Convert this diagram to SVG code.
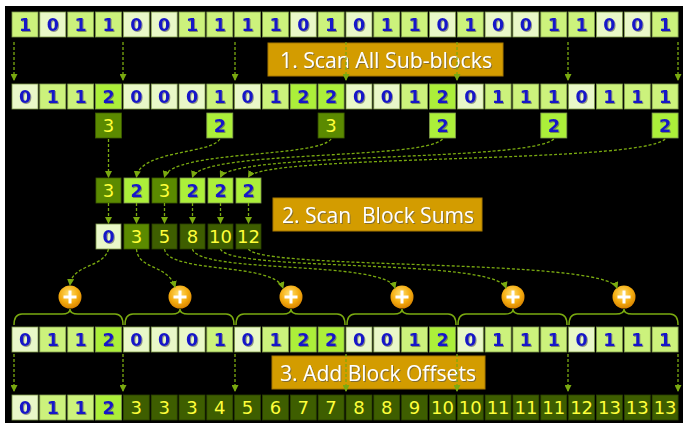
<svg xmlns="http://www.w3.org/2000/svg" width="683" height="423" viewBox="0 0 683 423">
  <defs>
    <style>
      .c0 { fill: #e9f8c8; stroke: #7e9a4a; stroke-width: 0.8; }
      .c1 { fill: #ccf27c; stroke: #7e9a4a; stroke-width: 0.8; }
      .c2 { fill: #acef3a; stroke: #7e9a4a; stroke-width: 0.8; }
      .cd { fill: #5b8a00; stroke: #3c5a00; stroke-width: 0.8; }
      .ce { fill: #3e5e00; stroke: #2a4000; stroke-width: 0.8; }
      .tb { font-family: "DejaVu Sans", Verdana, sans-serif; font-weight: bold; font-size: 17.5px; fill: #1616c8; text-anchor: middle; filter: url(#shadow); }
      .ty { font-family: "DejaVu Sans", Verdana, sans-serif; font-size: 18px; fill: #ffff3a; text-anchor: middle; }
      .lbl { fill: #d39c00; stroke: #a87800; stroke-width: 1; }
      .lt { font-family: "Open Sans", "DejaVu Sans", sans-serif; font-size: 22px; fill: #ffffff; filter: url(#shadow); }
      .dash { fill: none; stroke: #7aaa10; stroke-width: 1.3; stroke-dasharray: 3 2; marker-end: url(#arrow); }
      .brace { fill: none; stroke: #7aaa10; stroke-width: 1.5; }
      .plus { stroke: #ffffff; stroke-width: 3; }
    </style>
    <filter id="shadow" x="-20%" y="-20%" width="150%" height="150%">
      <feDropShadow dx="1" dy="1" stdDeviation="0.6" flood-color="#505050" flood-opacity="0.6"/>
    </filter>
    <marker id="arrow" markerWidth="7" markerHeight="7" refX="6" refY="3.5" orient="auto" markerUnits="userSpaceOnUse">
      <path d="M0,0 L7,3.5 L0,7 z" fill="#7aaa10"/>
    </marker>
    <radialGradient id="orb" cx="45%" cy="35%" r="65%">
      <stop offset="0" stop-color="#ffe070"/>
      <stop offset="0.6" stop-color="#f5ad10"/>
      <stop offset="1" stop-color="#d98400"/>
    </radialGradient>
  </defs>

  <rect x="0" y="0" width="683" height="423" fill="#ffffff"/>
  <rect x="5" y="6" width="678" height="417" fill="#000000"/>

  <!-- input flags -->
  <g id="input">
    <g id="in0"><rect class="c1" x="12.0" y="12" width="26" height="25"/><text class="tb" x="25.0" y="31">1</text></g>
    <g id="in1"><rect class="c0" x="39.8" y="12" width="26" height="25"/><text class="tb" x="52.8" y="31">0</text></g>
    <g id="in2"><rect class="c1" x="67.7" y="12" width="26" height="25"/><text class="tb" x="80.7" y="31">1</text></g>
    <g id="in3"><rect class="c1" x="95.5" y="12" width="26" height="25"/><text class="tb" x="108.5" y="31">1</text></g>
    <g id="in4"><rect class="c0" x="123.3" y="12" width="26" height="25"/><text class="tb" x="136.3" y="31">0</text></g>
    <g id="in5"><rect class="c0" x="151.2" y="12" width="26" height="25"/><text class="tb" x="164.2" y="31">0</text></g>
    <g id="in6"><rect class="c1" x="179.0" y="12" width="26" height="25"/><text class="tb" x="192.0" y="31">1</text></g>
    <g id="in7"><rect class="c1" x="206.8" y="12" width="26" height="25"/><text class="tb" x="219.8" y="31">1</text></g>
    <g id="in8"><rect class="c1" x="234.6" y="12" width="26" height="25"/><text class="tb" x="247.6" y="31">1</text></g>
    <g id="in9"><rect class="c1" x="262.5" y="12" width="26" height="25"/><text class="tb" x="275.5" y="31">1</text></g>
    <g id="in10"><rect class="c0" x="290.3" y="12" width="26" height="25"/><text class="tb" x="303.3" y="31">0</text></g>
    <g id="in11"><rect class="c1" x="318.1" y="12" width="26" height="25"/><text class="tb" x="331.1" y="31">1</text></g>
    <g id="in12"><rect class="c0" x="346.0" y="12" width="26" height="25"/><text class="tb" x="359.0" y="31">0</text></g>
    <g id="in13"><rect class="c1" x="373.8" y="12" width="26" height="25"/><text class="tb" x="386.8" y="31">1</text></g>
    <g id="in14"><rect class="c1" x="401.6" y="12" width="26" height="25"/><text class="tb" x="414.6" y="31">1</text></g>
    <g id="in15"><rect class="c0" x="429.5" y="12" width="26" height="25"/><text class="tb" x="442.5" y="31">0</text></g>
    <g id="in16"><rect class="c1" x="457.3" y="12" width="26" height="25"/><text class="tb" x="470.3" y="31">1</text></g>
    <g id="in17"><rect class="c0" x="485.1" y="12" width="26" height="25"/><text class="tb" x="498.1" y="31">0</text></g>
    <g id="in18"><rect class="c0" x="512.9" y="12" width="26" height="25"/><text class="tb" x="525.9" y="31">0</text></g>
    <g id="in19"><rect class="c1" x="540.8" y="12" width="26" height="25"/><text class="tb" x="553.8" y="31">1</text></g>
    <g id="in20"><rect class="c1" x="568.6" y="12" width="26" height="25"/><text class="tb" x="581.6" y="31">1</text></g>
    <g id="in21"><rect class="c0" x="596.4" y="12" width="26" height="25"/><text class="tb" x="609.4" y="31">0</text></g>
    <g id="in22"><rect class="c0" x="624.3" y="12" width="26" height="25"/><text class="tb" x="637.3" y="31">0</text></g>
    <g id="in23"><rect class="c1" x="652.1" y="12" width="26" height="25"/><text class="tb" x="665.1" y="31">1</text></g>
  </g>

  <!-- step labels -->
  <g id="label1"><rect class="lbl" x="268" y="43" width="235" height="33"/><text class="lt" x="280" y="68" textLength="212" lengthAdjust="spacingAndGlyphs">1. Scan All Sub-blocks</text></g>
  <g id="label2"><rect class="lbl" x="273" y="198" width="209" height="33"/><text class="lt" x="282" y="223" textLength="192" lengthAdjust="spacingAndGlyphs" xml:space="preserve">2. Scan  Block Sums</text></g>
  <g id="label3"><rect class="lbl" x="272" y="356" width="213" height="33"/><text class="lt" x="280" y="381" textLength="196" lengthAdjust="spacingAndGlyphs">3. Add Block Offsets</text></g>

  <!-- per-block scan -->
  <g id="blockscan">
    <g id="bs0"><rect class="c0" x="12.0" y="84" width="26" height="25"/><text class="tb" x="25.0" y="103">0</text></g>
    <g id="bs1"><rect class="c1" x="39.8" y="84" width="26" height="25"/><text class="tb" x="52.8" y="103">1</text></g>
    <g id="bs2"><rect class="c1" x="67.7" y="84" width="26" height="25"/><text class="tb" x="80.7" y="103">1</text></g>
    <g id="bs3"><rect class="c2" x="95.5" y="84" width="26" height="25"/><text class="tb" x="108.5" y="103">2</text></g>
    <g id="bs4"><rect class="c0" x="123.3" y="84" width="26" height="25"/><text class="tb" x="136.3" y="103">0</text></g>
    <g id="bs5"><rect class="c0" x="151.2" y="84" width="26" height="25"/><text class="tb" x="164.2" y="103">0</text></g>
    <g id="bs6"><rect class="c0" x="179.0" y="84" width="26" height="25"/><text class="tb" x="192.0" y="103">0</text></g>
    <g id="bs7"><rect class="c1" x="206.8" y="84" width="26" height="25"/><text class="tb" x="219.8" y="103">1</text></g>
    <g id="bs8"><rect class="c0" x="234.6" y="84" width="26" height="25"/><text class="tb" x="247.6" y="103">0</text></g>
    <g id="bs9"><rect class="c1" x="262.5" y="84" width="26" height="25"/><text class="tb" x="275.5" y="103">1</text></g>
    <g id="bs10"><rect class="c2" x="290.3" y="84" width="26" height="25"/><text class="tb" x="303.3" y="103">2</text></g>
    <g id="bs11"><rect class="c2" x="318.1" y="84" width="26" height="25"/><text class="tb" x="331.1" y="103">2</text></g>
    <g id="bs12"><rect class="c0" x="346.0" y="84" width="26" height="25"/><text class="tb" x="359.0" y="103">0</text></g>
    <g id="bs13"><rect class="c0" x="373.8" y="84" width="26" height="25"/><text class="tb" x="386.8" y="103">0</text></g>
    <g id="bs14"><rect class="c1" x="401.6" y="84" width="26" height="25"/><text class="tb" x="414.6" y="103">1</text></g>
    <g id="bs15"><rect class="c2" x="429.5" y="84" width="26" height="25"/><text class="tb" x="442.5" y="103">2</text></g>
    <g id="bs16"><rect class="c0" x="457.3" y="84" width="26" height="25"/><text class="tb" x="470.3" y="103">0</text></g>
    <g id="bs17"><rect class="c1" x="485.1" y="84" width="26" height="25"/><text class="tb" x="498.1" y="103">1</text></g>
    <g id="bs18"><rect class="c1" x="512.9" y="84" width="26" height="25"/><text class="tb" x="525.9" y="103">1</text></g>
    <g id="bs19"><rect class="c1" x="540.8" y="84" width="26" height="25"/><text class="tb" x="553.8" y="103">1</text></g>
    <g id="bs20"><rect class="c0" x="568.6" y="84" width="26" height="25"/><text class="tb" x="581.6" y="103">0</text></g>
    <g id="bs21"><rect class="c1" x="596.4" y="84" width="26" height="25"/><text class="tb" x="609.4" y="103">1</text></g>
    <g id="bs22"><rect class="c1" x="624.3" y="84" width="26" height="25"/><text class="tb" x="637.3" y="103">1</text></g>
    <g id="bs23"><rect class="c1" x="652.1" y="84" width="26" height="25"/><text class="tb" x="665.1" y="103">1</text></g>
  </g>

  <!-- block totals -->
  <g id="totals">
    <g id="tot0"><rect class="cd" x="95.5" y="113" width="26" height="25"/><text class="ty" x="108.5" y="132">3</text></g>
    <g id="tot1"><rect class="c2" x="206.8" y="113" width="26" height="25"/><text class="tb" x="219.8" y="132">2</text></g>
    <g id="tot2"><rect class="cd" x="318.1" y="113" width="26" height="25"/><text class="ty" x="331.1" y="132">3</text></g>
    <g id="tot3"><rect class="c2" x="429.5" y="113" width="26" height="25"/><text class="tb" x="442.5" y="132">2</text></g>
    <g id="tot4"><rect class="c2" x="540.8" y="113" width="26" height="25"/><text class="tb" x="553.8" y="132">2</text></g>
    <g id="tot5"><rect class="c2" x="652.1" y="113" width="26" height="25"/><text class="tb" x="665.1" y="132">2</text></g>
  </g>

  <!-- gathered block sums -->
  <g id="sums">
    <g id="sum0"><rect class="cd" x="96" y="178" width="25" height="25"/><text class="ty" x="108.5" y="197">3</text></g>
    <g id="sum1"><rect class="c2" x="124" y="178" width="25" height="25"/><text class="tb" x="136.5" y="197">2</text></g>
    <g id="sum2"><rect class="cd" x="152" y="178" width="25" height="25"/><text class="ty" x="164.5" y="197">3</text></g>
    <g id="sum3"><rect class="c2" x="180" y="178" width="25" height="25"/><text class="tb" x="192.5" y="197">2</text></g>
    <g id="sum4"><rect class="c2" x="208" y="178" width="25" height="25"/><text class="tb" x="220.5" y="197">2</text></g>
    <g id="sum5"><rect class="c2" x="236" y="178" width="25" height="25"/><text class="tb" x="248.5" y="197">2</text></g>
  </g>

  <!-- scanned block sums (offsets) -->
  <g id="offsets">
    <g id="off0"><rect class="c0" x="96" y="224" width="25" height="25"/><text class="tb" x="108.5" y="243">0</text></g>
    <g id="off1"><rect class="cd" x="124" y="224" width="25" height="25"/><text class="ty" x="136.5" y="243">3</text></g>
    <g id="off2"><rect class="ce" x="152" y="224" width="25" height="25"/><text class="ty" x="164.5" y="243">5</text></g>
    <g id="off3"><rect class="ce" x="180" y="224" width="25" height="25"/><text class="ty" x="192.5" y="243">8</text></g>
    <g id="off4"><rect class="ce" x="208" y="224" width="25" height="25"/><text class="ty" x="220.5" y="243">10</text></g>
    <g id="off5"><rect class="ce" x="236" y="224" width="25" height="25"/><text class="ty" x="248.5" y="243">12</text></g>
  </g>

  <!-- adders -->
  <g id="adders">
    <g id="add0"><circle cx="70" cy="297" r="11.5" fill="url(#orb)"/><path class="plus" d="M63.5,297 H76.5 M70,290.5 V303.5"/></g>
    <g id="add1"><circle cx="180" cy="297" r="11.5" fill="url(#orb)"/><path class="plus" d="M173.5,297 H186.5 M180,290.5 V303.5"/></g>
    <g id="add2"><circle cx="291" cy="297" r="11.5" fill="url(#orb)"/><path class="plus" d="M284.5,297 H297.5 M291,290.5 V303.5"/></g>
    <g id="add3"><circle cx="402" cy="297" r="11.5" fill="url(#orb)"/><path class="plus" d="M395.5,297 H408.5 M402,290.5 V303.5"/></g>
    <g id="add4"><circle cx="513" cy="297" r="11.5" fill="url(#orb)"/><path class="plus" d="M506.5,297 H519.5 M513,290.5 V303.5"/></g>
    <g id="add5"><circle cx="624" cy="297" r="11.5" fill="url(#orb)"/><path class="plus" d="M617.5,297 H630.5 M624,290.5 V303.5"/></g>
  </g>

  <!-- braces spanning each block -->
  <g id="braces">
    <path class="brace" d="M14,325 Q14,314 22,314 L62,314 Q70,314 70,309 Q70,314 78,314 L115,314 Q123,314 123,325"/>
    <path class="brace" d="M125,325 Q125,314 133,314 L172,314 Q180,314 180,309 Q180,314 188,314 L226,314 Q234,314 234,325"/>
    <path class="brace" d="M236,325 Q236,314 244,314 L283,314 Q291,314 291,309 Q291,314 299,314 L337,314 Q345,314 345,325"/>
    <path class="brace" d="M347,325 Q347,314 355,314 L394,314 Q402,314 402,309 Q402,314 410,314 L448,314 Q456,314 456,325"/>
    <path class="brace" d="M458,325 Q458,314 466,314 L505,314 Q513,314 513,309 Q513,314 521,314 L559,314 Q567,314 567,325"/>
    <path class="brace" d="M569,325 Q569,314 577,314 L616,314 Q624,314 624,309 Q624,314 632,314 L670,314 Q678,314 678,325"/>
  </g>

  <!-- per-block scan repeated -->
  <g id="partials">
    <g id="pr0"><rect class="c0" x="12.0" y="327" width="26" height="25"/><text class="tb" x="25.0" y="346">0</text></g>
    <g id="pr1"><rect class="c1" x="39.8" y="327" width="26" height="25"/><text class="tb" x="52.8" y="346">1</text></g>
    <g id="pr2"><rect class="c1" x="67.7" y="327" width="26" height="25"/><text class="tb" x="80.7" y="346">1</text></g>
    <g id="pr3"><rect class="c2" x="95.5" y="327" width="26" height="25"/><text class="tb" x="108.5" y="346">2</text></g>
    <g id="pr4"><rect class="c0" x="123.3" y="327" width="26" height="25"/><text class="tb" x="136.3" y="346">0</text></g>
    <g id="pr5"><rect class="c0" x="151.2" y="327" width="26" height="25"/><text class="tb" x="164.2" y="346">0</text></g>
    <g id="pr6"><rect class="c0" x="179.0" y="327" width="26" height="25"/><text class="tb" x="192.0" y="346">0</text></g>
    <g id="pr7"><rect class="c1" x="206.8" y="327" width="26" height="25"/><text class="tb" x="219.8" y="346">1</text></g>
    <g id="pr8"><rect class="c0" x="234.6" y="327" width="26" height="25"/><text class="tb" x="247.6" y="346">0</text></g>
    <g id="pr9"><rect class="c1" x="262.5" y="327" width="26" height="25"/><text class="tb" x="275.5" y="346">1</text></g>
    <g id="pr10"><rect class="c2" x="290.3" y="327" width="26" height="25"/><text class="tb" x="303.3" y="346">2</text></g>
    <g id="pr11"><rect class="c2" x="318.1" y="327" width="26" height="25"/><text class="tb" x="331.1" y="346">2</text></g>
    <g id="pr12"><rect class="c0" x="346.0" y="327" width="26" height="25"/><text class="tb" x="359.0" y="346">0</text></g>
    <g id="pr13"><rect class="c0" x="373.8" y="327" width="26" height="25"/><text class="tb" x="386.8" y="346">0</text></g>
    <g id="pr14"><rect class="c1" x="401.6" y="327" width="26" height="25"/><text class="tb" x="414.6" y="346">1</text></g>
    <g id="pr15"><rect class="c2" x="429.5" y="327" width="26" height="25"/><text class="tb" x="442.5" y="346">2</text></g>
    <g id="pr16"><rect class="c0" x="457.3" y="327" width="26" height="25"/><text class="tb" x="470.3" y="346">0</text></g>
    <g id="pr17"><rect class="c1" x="485.1" y="327" width="26" height="25"/><text class="tb" x="498.1" y="346">1</text></g>
    <g id="pr18"><rect class="c1" x="512.9" y="327" width="26" height="25"/><text class="tb" x="525.9" y="346">1</text></g>
    <g id="pr19"><rect class="c1" x="540.8" y="327" width="26" height="25"/><text class="tb" x="553.8" y="346">1</text></g>
    <g id="pr20"><rect class="c0" x="568.6" y="327" width="26" height="25"/><text class="tb" x="581.6" y="346">0</text></g>
    <g id="pr21"><rect class="c1" x="596.4" y="327" width="26" height="25"/><text class="tb" x="609.4" y="346">1</text></g>
    <g id="pr22"><rect class="c1" x="624.3" y="327" width="26" height="25"/><text class="tb" x="637.3" y="346">1</text></g>
    <g id="pr23"><rect class="c1" x="652.1" y="327" width="26" height="25"/><text class="tb" x="665.1" y="346">1</text></g>
  </g>

  <!-- final result -->
  <g id="result">
    <g id="r0"><rect class="c0" x="12.0" y="395" width="26" height="25"/><text class="tb" x="25.0" y="414">0</text></g>
    <g id="r1"><rect class="c1" x="39.8" y="395" width="26" height="25"/><text class="tb" x="52.8" y="414">1</text></g>
    <g id="r2"><rect class="c1" x="67.7" y="395" width="26" height="25"/><text class="tb" x="80.7" y="414">1</text></g>
    <g id="r3"><rect class="c2" x="95.5" y="395" width="26" height="25"/><text class="tb" x="108.5" y="414">2</text></g>
    <g id="r4"><rect class="ce" x="123.3" y="395" width="26" height="25"/><text class="ty" x="136.3" y="414">3</text></g>
    <g id="r5"><rect class="ce" x="151.2" y="395" width="26" height="25"/><text class="ty" x="164.2" y="414">3</text></g>
    <g id="r6"><rect class="ce" x="179.0" y="395" width="26" height="25"/><text class="ty" x="192.0" y="414">3</text></g>
    <g id="r7"><rect class="ce" x="206.8" y="395" width="26" height="25"/><text class="ty" x="219.8" y="414">4</text></g>
    <g id="r8"><rect class="ce" x="234.6" y="395" width="26" height="25"/><text class="ty" x="247.6" y="414">5</text></g>
    <g id="r9"><rect class="ce" x="262.5" y="395" width="26" height="25"/><text class="ty" x="275.5" y="414">6</text></g>
    <g id="r10"><rect class="ce" x="290.3" y="395" width="26" height="25"/><text class="ty" x="303.3" y="414">7</text></g>
    <g id="r11"><rect class="ce" x="318.1" y="395" width="26" height="25"/><text class="ty" x="331.1" y="414">7</text></g>
    <g id="r12"><rect class="ce" x="346.0" y="395" width="26" height="25"/><text class="ty" x="359.0" y="414">8</text></g>
    <g id="r13"><rect class="ce" x="373.8" y="395" width="26" height="25"/><text class="ty" x="386.8" y="414">8</text></g>
    <g id="r14"><rect class="ce" x="401.6" y="395" width="26" height="25"/><text class="ty" x="414.6" y="414">9</text></g>
    <g id="r15"><rect class="ce" x="429.5" y="395" width="26" height="25"/><text class="ty" x="442.5" y="414">10</text></g>
    <g id="r16"><rect class="ce" x="457.3" y="395" width="26" height="25"/><text class="ty" x="470.3" y="414">10</text></g>
    <g id="r17"><rect class="ce" x="485.1" y="395" width="26" height="25"/><text class="ty" x="498.1" y="414">11</text></g>
    <g id="r18"><rect class="ce" x="512.9" y="395" width="26" height="25"/><text class="ty" x="525.9" y="414">11</text></g>
    <g id="r19"><rect class="ce" x="540.8" y="395" width="26" height="25"/><text class="ty" x="553.8" y="414">11</text></g>
    <g id="r20"><rect class="ce" x="568.6" y="395" width="26" height="25"/><text class="ty" x="581.6" y="414">12</text></g>
    <g id="r21"><rect class="ce" x="596.4" y="395" width="26" height="25"/><text class="ty" x="609.4" y="414">13</text></g>
    <g id="r22"><rect class="ce" x="624.3" y="395" width="26" height="25"/><text class="ty" x="637.3" y="414">13</text></g>
    <g id="r23"><rect class="ce" x="652.1" y="395" width="26" height="25"/><text class="ty" x="665.1" y="414">13</text></g>
  </g>

  <!-- connectors -->
  <g id="connectors">
    <!-- step 1: into each block -->
    <path class="dash" d="M14,42 V80"/>
    <path class="dash" d="M123,42 V80"/>
    <path class="dash" d="M235,42 V80"/>
    <path class="dash" d="M346,42 V80"/>
    <path class="dash" d="M457,42 V80"/>
    <path class="dash" d="M568,42 V80"/>
    <path class="dash" d="M678,42 V80"/>
    <!-- block totals gathered -->
    <path class="dash" d="M108.5,139 V177"/>
    <path class="dash" d="M219.8,139 C212,154 140,150 136.5,177"/>
    <path class="dash" d="M331.1,139 C318,158 172,150 164.5,177"/>
    <path class="dash" d="M442.5,139 C425,160 202,150 192.5,177"/>
    <path class="dash" d="M553.8,139 C530,162 232,152 220.5,177"/>
    <path class="dash" d="M665.1,139 C640,164 262,154 248.5,177"/>
    <!-- gathered to scanned -->
    <path class="dash" d="M108.5,203 V223"/>
    <path class="dash" d="M136.5,203 V223"/>
    <path class="dash" d="M164.5,203 V223"/>
    <path class="dash" d="M192.5,203 V223"/>
    <path class="dash" d="M220.5,203 V223"/>
    <path class="dash" d="M248.5,203 V223"/>
    <!-- offsets to adders -->
    <path class="dash" d="M108.5,249 C104,268 72,264 70,285"/>
    <path class="dash" d="M136.5,249 C138,270 168,264 175,287"/>
    <path class="dash" d="M164.5,249 C168,274 274,262 283,288"/>
    <path class="dash" d="M192.5,249 C198,274 386,260 395,288"/>
    <path class="dash" d="M220.5,249 C228,272 496,258 506,288"/>
    <path class="dash" d="M248.5,249 C258,270 606,258 617,288"/>
    <!-- step 3: into each block -->
    <path class="dash" d="M14,354 V391"/>
    <path class="dash" d="M123,354 V391"/>
    <path class="dash" d="M235,354 V391"/>
    <path class="dash" d="M346,354 V391"/>
    <path class="dash" d="M457,354 V391"/>
    <path class="dash" d="M568,354 V391"/>
    <path class="dash" d="M678,354 V391"/>
  </g>
</svg>
